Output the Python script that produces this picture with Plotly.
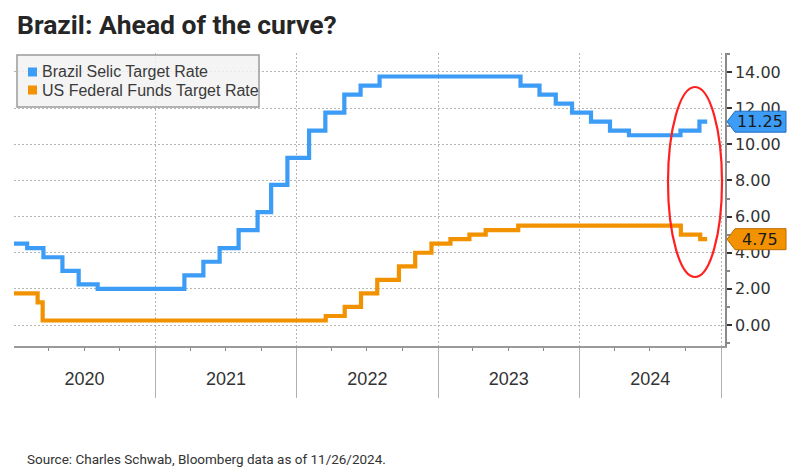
import plotly.graph_objects as go

# ---- data ----
selic_dates = ["2019-12-11", "2020-02-05", "2020-03-18", "2020-05-06", "2020-06-17", "2020-08-05",
               "2021-03-17", "2021-05-05", "2021-06-16", "2021-08-04", "2021-09-22", "2021-10-27",
               "2021-12-08", "2022-02-02", "2022-03-16", "2022-05-04", "2022-06-15", "2022-08-03",
               "2023-08-02", "2023-09-20", "2023-11-01", "2023-12-13", "2024-01-31", "2024-03-20",
               "2024-05-08", "2024-09-18", "2024-11-06", "2024-11-26"]
selic_rates = [4.50, 4.25, 3.75, 3.00, 2.25, 2.00,
               2.75, 3.50, 4.25, 5.25, 6.25, 7.75,
               9.25, 10.75, 11.75, 12.75, 13.25, 13.75,
               13.25, 12.75, 12.25, 11.75, 11.25, 10.75,
               10.50, 10.75, 11.25, 11.25]

fed_dates = ["2019-10-31", "2020-03-03", "2020-03-16", "2022-03-17", "2022-05-05", "2022-06-16",
             "2022-07-28", "2022-09-22", "2022-11-03", "2022-12-15", "2023-02-02", "2023-03-23",
             "2023-05-04", "2023-07-27", "2024-09-19", "2024-11-08", "2024-11-26"]
fed_rates = [1.75, 1.25, 0.25, 0.50, 1.00, 1.75,
             2.50, 3.25, 4.00, 4.50, 4.75, 5.00,
             5.25, 5.50, 5.00, 4.75, 4.75]

series_names = ["Brazil Selic Target Rate", "US Federal Funds Target Rate"]
series_colors = ["#3d9cf5", "#f39200"]
tag_border = ["#1f6fc0", "#b86a00"]

title_text = "Brazil: Ahead of the curve?"
source_text = "Source: Charles Schwab, Bloomberg data as of 11/26/2024."
y_ticks = [0, 2, 4, 6, 8, 10, 12, 14]

# ---- layout geometry (window pixels) ----
WIN_W, WIN_H = 800, 469
OFF = 8  # default page body margin
W, H = WIN_W - OFF, WIN_H - OFF
PL, PR, PT, PB = 14, 725, 53, 346


def px_x(px):
    return (px - PL) / (PR - PL)


def px_y(py):
    return (PB - py) / (PB - PT)


fig = go.Figure()
for d, v, name, col in zip([selic_dates, fed_dates], [selic_rates, fed_rates], series_names, series_colors):
    fig.add_trace(go.Scatter(x=d, y=v, mode="lines", name=name, showlegend=False,
                             line=dict(color=col, width=4.2, shape="hv")))

y_lo, y_hi = -1.16, 15.05
units_per_px = (y_hi - y_lo) / (PB - PT)

shapes = []
annotations = []

# legend box
shapes.append(dict(type="rect", xref="paper", yref="paper", x0=px_x(17), x1=px_x(259),
                   y0=px_y(107), y1=px_y(55), fillcolor="rgba(242,242,242,0.85)",
                   line=dict(color="#9a9a9a", width=1.5), layer="above"))
for i, (name, col) in enumerate(zip(series_names, series_colors)):
    cy = 72 + i * 18
    shapes.append(dict(type="rect", xref="paper", yref="paper", x0=px_x(28), x1=px_x(37),
                       y0=px_y(cy + 4.5), y1=px_y(cy - 4.5), fillcolor=col, line=dict(width=0),
                       layer="above"))
    annotations.append(dict(text=name, xref="paper", yref="paper", x=px_x(40), y=px_y(cy),
                            xanchor="left", yanchor="middle", showarrow=False,
                            font=dict(family="Liberation Sans", size=16, color="#3a3a3a")))

# last value tags
for vals, col, bcol in zip([selic_rates, fed_rates], series_colors, tag_border):
    v = vals[-1]
    h = 10.5 * units_per_px
    xa, xb, xc = px_x(727), px_x(735), px_x(786)
    path = f"M {xa},{v} L {xb},{v + h} L {xc},{v + h} L {xc},{v - h} L {xb},{v - h} Z"
    shapes.append(dict(type="path", xref="paper", yref="y", path=path, fillcolor=col,
                       line=dict(color=bcol, width=1), layer="above"))
    annotations.append(dict(text=f"{v:.2f}", xref="paper", yref="y", x=px_x(760), y=v,
                            xanchor="center", yanchor="middle", showarrow=False,
                            font=dict(family="DejaVu Sans", size=16, color="#1a1a1a")))

# red ellipse highlight
shapes.append(dict(type="circle", xref="paper", yref="paper", x0=px_x(668), x1=px_x(722),
                   y0=px_y(277), y1=px_y(87), line=dict(color="#ff2020", width=2.2),
                   fillcolor="rgba(0,0,0,0)", layer="above"))

# title & source
annotations.append(dict(text=f"<b>{title_text}</b>", xref="paper", yref="paper",
                        x=px_x(15), y=px_y(24), xanchor="left", yanchor="middle", showarrow=False,
                        font=dict(family="Roboto", size=26.5, color="#262626")))
annotations.append(dict(text=source_text, xref="paper", yref="paper",
                        x=px_x(25), y=px_y(459), xanchor="left", yanchor="middle", showarrow=False,
                        font=dict(family="Roboto", size=13.5, color="#333333")))

fig.update_layout(
    width=W, height=H,
    margin=dict(l=PL - OFF, r=WIN_W - PR, t=PT - OFF, b=WIN_H - PB),
    paper_bgcolor="white", plot_bgcolor="white",
    shapes=shapes, annotations=annotations,
    showlegend=False,
    xaxis=dict(
        type="date", range=["2020-01-02", "2025-01-11"],
        dtick="M12", tick0="2020-01-01", tickformat="%Y", ticklabelmode="period",
        showgrid=True, gridcolor="#b5b5b5", griddash="2px,2px", gridwidth=1,
        ticks="outside", ticklen=50, tickcolor="#b0b0b0", tickwidth=1,
        ticklabelstandoff=-34,
        minor=dict(dtick="M3", ticks="outside", ticklen=3, tickcolor="#888", showgrid=False),
        showline=True, linecolor="#9a9a9a", linewidth=1.5,
        tickfont=dict(family="Liberation Sans", size=18, color="#333333"),
        zeroline=False,
    ),
    yaxis=dict(
        side="right", range=[y_lo, y_hi], tickvals=y_ticks, tickformat=".2f",
        showgrid=True, gridcolor="#b5b5b5", griddash="2px,2px", gridwidth=1,
        ticks="outside", ticklen=5, tickcolor="#333", tickwidth=1.5,
        minor=dict(dtick=1, tick0=0, ticks="outside", ticklen=3, tickcolor="#888", showgrid=False),
        showline=True, linecolor="#8a8a8a", linewidth=1.5,
        tickfont=dict(family="DejaVu Sans", size=16, color="#333333"),
        zeroline=False,
    ),
)

fig.write_html("out.html")
